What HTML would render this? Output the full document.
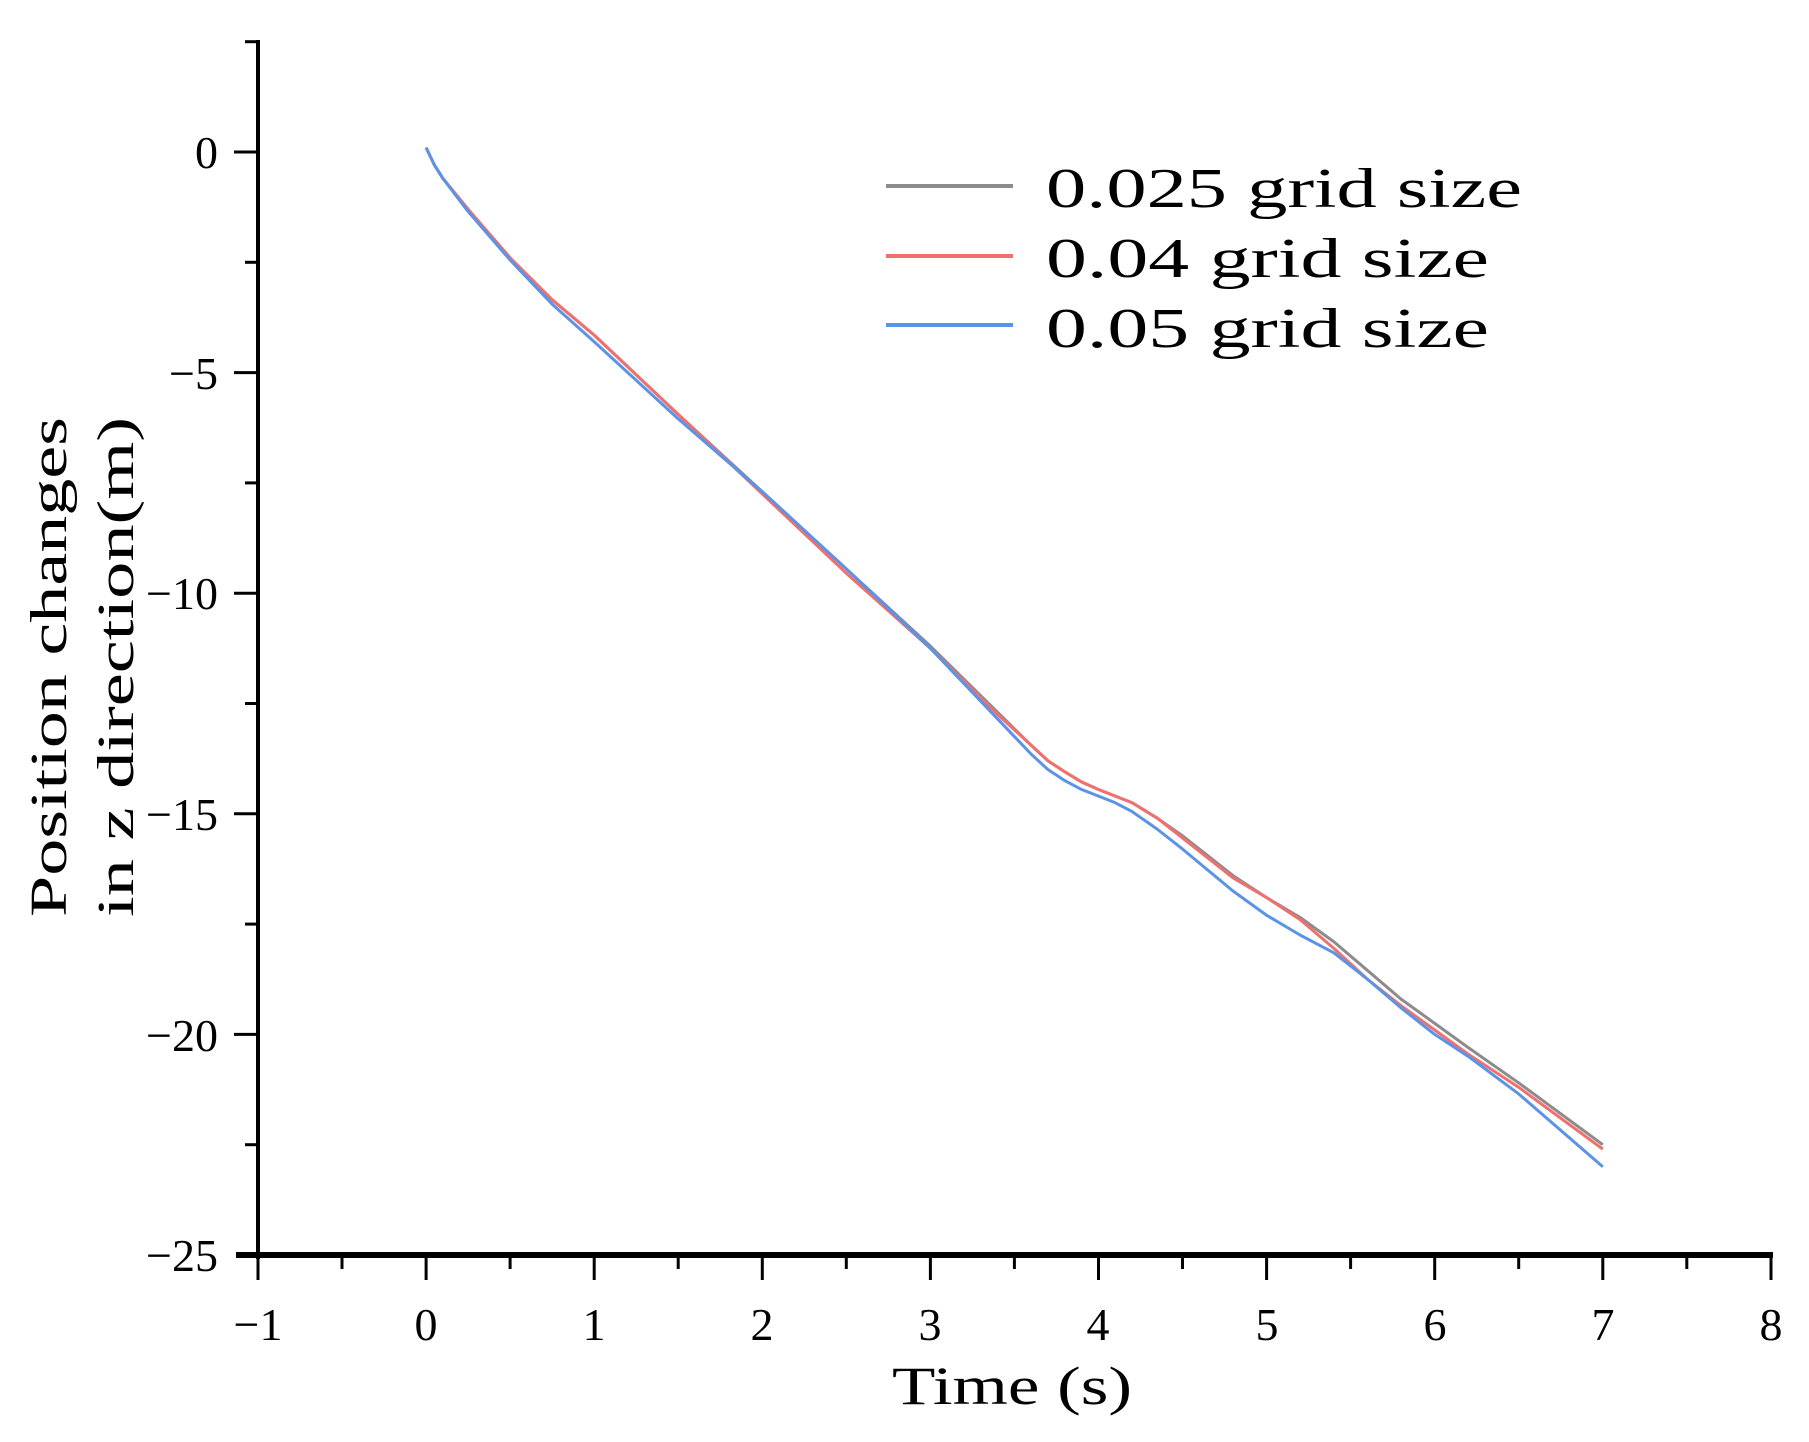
<!DOCTYPE html>
<html><head><meta charset="utf-8"><style>html,body{margin:0;padding:0;background:#fff}</style></head>
<body>
<svg width="1809" height="1437" viewBox="0 0 1809 1437" xmlns="http://www.w3.org/2000/svg" font-family="'Liberation Serif','Noto Serif CJK SC',serif">
<rect width="1809" height="1437" fill="#fff"/>
<line x1="258" y1="40" x2="258" y2="1259" stroke="#000" stroke-width="4"/>
<line x1="236" y1="1255" x2="1773" y2="1255" stroke="#000" stroke-width="6"/>
<g stroke="#000" stroke-width="3">
<line x1="234" y1="152" x2="258" y2="152"/><line x1="234" y1="372.6" x2="258" y2="372.6"/>
<line x1="234" y1="593.2" x2="258" y2="593.2"/><line x1="234" y1="813.8" x2="258" y2="813.8"/>
<line x1="234" y1="1034.4" x2="258" y2="1034.4"/>
<line x1="245" y1="41.7" x2="258" y2="41.7"/><line x1="245" y1="262.3" x2="258" y2="262.3"/>
<line x1="245" y1="482.9" x2="258" y2="482.9"/><line x1="245" y1="703.5" x2="258" y2="703.5"/>
<line x1="245" y1="924.1" x2="258" y2="924.1"/><line x1="245" y1="1144.7" x2="258" y2="1144.7"/>
<line x1="258" y1="1255" x2="258" y2="1280"/><line x1="426.1" y1="1255" x2="426.1" y2="1280"/>
<line x1="594.2" y1="1255" x2="594.2" y2="1280"/><line x1="762.3" y1="1255" x2="762.3" y2="1280"/>
<line x1="930.4" y1="1255" x2="930.4" y2="1280"/><line x1="1098.5" y1="1255" x2="1098.5" y2="1280"/>
<line x1="1266.6" y1="1255" x2="1266.6" y2="1280"/><line x1="1434.7" y1="1255" x2="1434.7" y2="1280"/>
<line x1="1602.8" y1="1255" x2="1602.8" y2="1280"/><line x1="1771" y1="1255" x2="1771" y2="1280"/>
<line x1="342" y1="1255" x2="342" y2="1269"/><line x1="510.1" y1="1255" x2="510.1" y2="1269"/>
<line x1="678.2" y1="1255" x2="678.2" y2="1269"/><line x1="846.3" y1="1255" x2="846.3" y2="1269"/>
<line x1="1014.4" y1="1255" x2="1014.4" y2="1269"/><line x1="1182.5" y1="1255" x2="1182.5" y2="1269"/>
<line x1="1350.6" y1="1255" x2="1350.6" y2="1269"/><line x1="1518.7" y1="1255" x2="1518.7" y2="1269"/>
<line x1="1686.8" y1="1255" x2="1686.8" y2="1269"/>
</g>
<g font-size="46" fill="#000" text-anchor="end">
<text x="218" y="168">0</text><text x="218" y="389">−5</text><text x="218" y="609">−10</text>
<text x="218" y="830">−15</text><text x="218" y="1051">−20</text><text x="218" y="1271">−25</text>
</g>
<g font-size="46" fill="#000" text-anchor="middle">
<text x="258" y="1340">−1</text><text x="426" y="1340">0</text><text x="594" y="1340">1</text>
<text x="762" y="1340">2</text><text x="930" y="1340">3</text><text x="1098" y="1340">4</text>
<text x="1267" y="1340">5</text><text x="1435" y="1340">6</text><text x="1603" y="1340">7</text>
<text x="1771" y="1340">8</text>
</g>
<text x="1012" y="1404" font-size="54" text-anchor="middle" textLength="240" lengthAdjust="spacingAndGlyphs">Time (s)</text>
<text transform="translate(66,667) rotate(-90)" font-size="52" text-anchor="middle" textLength="500" lengthAdjust="spacingAndGlyphs">Position changes</text>
<text transform="translate(133,667) rotate(-90)" font-size="52" text-anchor="middle" textLength="500" lengthAdjust="spacingAndGlyphs">in z direction(m)</text>
<g transform="translate(426.1,152) scale(168.1,-44.12)" fill="none" stroke-width="3" stroke-linejoin="round">
<polyline vector-effect="non-scaling-stroke" stroke="#8c8c8c" points="0,0.1 0.05,-0.3 0.1,-0.6 0.25,-1.3 0.5,-2.4 0.75,-3.35 1,-4.15 1.5,-5.95 2,-7.7 2.5,-9.45 3,-11.2 3.4,-12.7 3.6,-13.45 3.7,-13.8 3.8,-14.05 3.9,-14.28 4,-14.45 4.1,-14.6 4.2,-14.75 4.35,-15.1 4.5,-15.5 4.8,-16.4 5,-16.9 5.2,-17.35 5.4,-17.9 5.6,-18.55 5.8,-19.2 6,-19.75 6.2,-20.3 6.5,-21.1 7,-22.5"/>
<polyline vector-effect="non-scaling-stroke" stroke="#f07070" points="0,0.1 0.05,-0.3 0.1,-0.6 0.25,-1.3 0.5,-2.4 0.75,-3.35 1,-4.15 1.5,-5.95 2,-7.75 2.5,-9.55 3,-11.25 3.4,-12.75 3.6,-13.45 3.7,-13.8 3.8,-14.05 3.9,-14.28 4,-14.45 4.1,-14.6 4.2,-14.75 4.35,-15.1 4.5,-15.55 4.8,-16.45 5,-16.9 5.2,-17.4 5.4,-18.05 5.6,-18.75 5.8,-19.35 6,-19.9 6.2,-20.45 6.5,-21.2 7,-22.6"/>
<polyline vector-effect="non-scaling-stroke" stroke="#5b93e6" points="0,0.1 0.05,-0.3 0.1,-0.6 0.25,-1.35 0.5,-2.45 0.75,-3.45 1,-4.3 1.5,-6.05 2,-7.7 2.5,-9.45 3,-11.25 3.4,-12.85 3.6,-13.65 3.7,-14.0 3.8,-14.25 3.9,-14.45 4,-14.6 4.1,-14.75 4.2,-14.95 4.35,-15.35 4.5,-15.8 4.8,-16.75 5,-17.3 5.2,-17.75 5.4,-18.15 5.6,-18.75 5.8,-19.4 6,-20.0 6.2,-20.5 6.5,-21.35 7,-23.0"/>
</g>
<line x1="886" y1="186" x2="1013" y2="186" stroke="#8c8c8c" stroke-width="4"/>
<line x1="886" y1="256" x2="1013" y2="256" stroke="#f07070" stroke-width="4"/>
<line x1="886" y1="325" x2="1013" y2="325" stroke="#5b93e6" stroke-width="4"/>
<g font-size="56" fill="#000">
<text x="1046" y="207" textLength="476" lengthAdjust="spacingAndGlyphs">0.025 grid size</text>
<text x="1046" y="277" textLength="443" lengthAdjust="spacingAndGlyphs">0.04 grid size</text>
<text x="1046" y="347" textLength="443" lengthAdjust="spacingAndGlyphs">0.05 grid size</text>
</g>
</svg>
</body></html>
